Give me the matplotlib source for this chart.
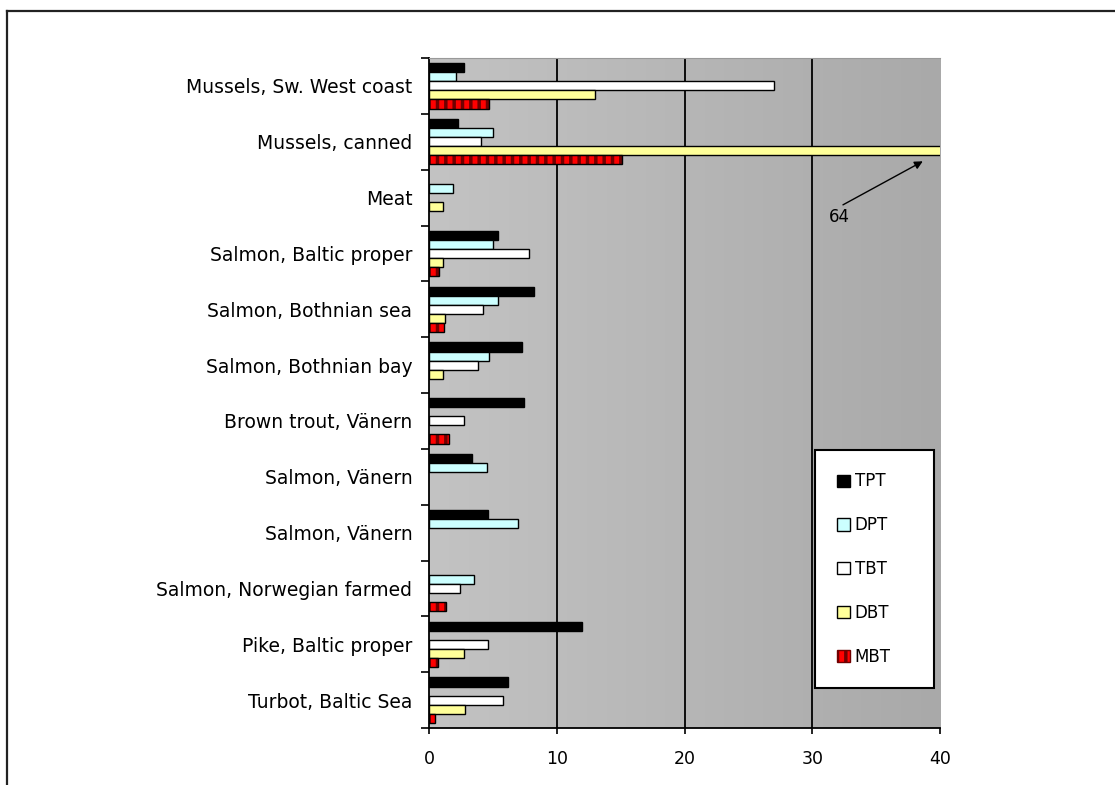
import numpy as np
import matplotlib.pyplot as plt
from matplotlib.colors import LinearSegmentedColormap
from matplotlib.lines import Line2D
from matplotlib.patches import Patch

plt.rcParams['font.family'] = ['DejaVu Sans']
plt.rcParams['hatch.linewidth'] = 2.5

# organotin levels per product (bars run top to bottom in this order)
products = ["Mussels, Sw. West coast", "Mussels, canned", "Meat",
            "Salmon, Baltic proper", "Salmon, Bothnian sea",
            "Salmon, Bothnian bay", "Brown trout, Vänern", "Salmon, Vänern",
            "Salmon, Vänern", "Salmon, Norwegian farmed",
            "Pike, Baltic proper", "Turbot, Baltic Sea"]

tpt = [2.7, 2.3, 0, 5.4, 8.2, 7.3, 7.4, 3.4, 4.6, 0, 12.0, 6.2]
dpt = [2.1, 5.0, 1.9, 5.0, 5.4, 4.7, 0, 4.5, 7.0, 3.5, 0, 0]
tbt = [27.0, 4.1, 0, 7.8, 4.2, 3.8, 2.7, 0, 0, 2.4, 4.6, 5.8]
dbt = [13.0, 64.0, 1.1, 1.1, 1.25, 1.1, 0, 0, 0, 0, 2.7, 2.8]
mbt = [4.7, 15.1, 0, 0.8, 1.15, 0, 1.6, 0, 0, 1.3, 0.7, 0.5]

series_names = ["TPT", "DPT", "TBT", "DBT", "MBT"]
series = [tpt, dpt, tbt, dbt, mbt]
colors = ["#000000", "#ccffff", "#ffffff", "#ffff99", "#ff0000"]

fig = plt.figure(figsize=(11.15, 7.85), dpi=100)
ax = fig.add_axes([0.3848, 0.0726, 0.4583, 0.8535])

# grey gradient plot area
bg = LinearSegmentedColormap.from_list('bg', ['#c3c3c3', '#a9a9a9'])
ax.imshow(np.linspace(0, 1, 256).reshape(1, -1), cmap=bg, aspect='auto',
          extent=[0, 40, 11.5, -0.5], zorder=0)

for x in [10, 20, 30]:
    ax.axvline(x, color='black', lw=1.3, zorder=1)

h = 0.162
y = np.arange(len(products))
for k, (vals, col) in enumerate(zip(series, colors)):
    vals = np.array(vals, dtype=float)
    keep = vals > 0
    pos = y[keep] + (k - 2) * h
    if series_names[k] == "MBT":
        ax.barh(pos, vals[keep], height=h, color=col, edgecolor='#700000',
                hatch='||', lw=0, zorder=2)
        ax.barh(pos, vals[keep], height=h, fill=False, edgecolor='black',
                lw=1.0, zorder=3)
    else:
        ax.barh(pos, vals[keep], height=h, color=col, edgecolor='black',
                lw=1.0, zorder=2)

# the canned mussels DBT bar runs off the axis, so its value is written out
ax.text(32.1, 2.35, "64", ha='center', va='center', fontsize=12)
ax.annotate("", xy=(38.65, 1.35), xytext=(32.4, 2.13),
            arrowprops=dict(arrowstyle='-|>', color='black', lw=1.0,
                            mutation_scale=12, shrinkA=0, shrinkB=0))

ax.set_xlim(0, 40)
ax.set_ylim(11.5, -0.5)
ax.set_xticks([0, 10, 20, 30, 40])
ax.tick_params(axis='x', length=4, width=1.2, pad=12, labelsize=12.5)

ax.set_yticks(np.arange(-0.5, 12, 1))
ax.set_yticklabels([])
ax.set_yticks(y, labels=products, minor=True)
ax.tick_params(axis='y', which='major', length=6, width=1.2)
ax.tick_params(axis='y', which='minor', length=0, pad=12, labelsize=13.5)

ax.spines['right'].set_visible(False)
ax.spines['top'].set_color('#999999')
ax.spines['left'].set_linewidth(1.3)
ax.spines['bottom'].set_linewidth(1.3)

handles = []
for name, col in zip(series_names, colors):
    if name == "MBT":
        handles.append(Patch(facecolor=col, edgecolor='#700000', hatch='||', lw=1.0))
    else:
        handles.append(Patch(facecolor=col, edgecolor='black', lw=1.0))
leg = ax.legend(handles, series_names, loc='upper left', mode='expand',
                bbox_to_anchor=(0.755, 0.415, 0.233, 0.0), borderaxespad=0,
                fontsize=12, labelspacing=1.55, borderpad=1.35,
                handlelength=0.75, handleheight=0.75, handletextpad=0.3,
                fancybox=False, framealpha=1)
leg.get_frame().set_edgecolor('black')
leg.get_frame().set_linewidth(1.5)

# outer chart frame
fig.add_artist(Line2D([6.5 / 1115, 1], [1 - 10.5 / 785] * 2,
                      transform=fig.transFigure, color='#222222', lw=1.6))
fig.add_artist(Line2D([6.5 / 1115] * 2, [0, 1 - 10.5 / 785],
                      transform=fig.transFigure, color='#222222', lw=1.6))

fig.savefig('out.png', dpi=100)
